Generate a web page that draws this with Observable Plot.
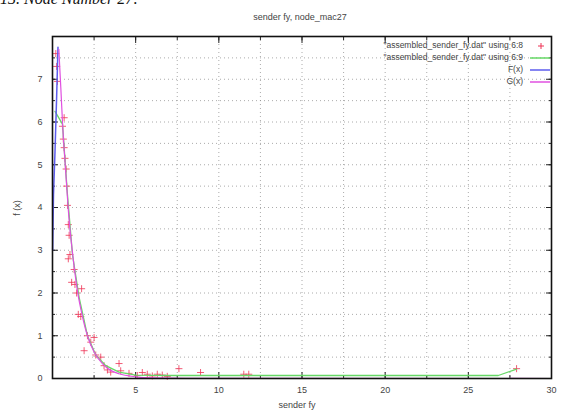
<!DOCTYPE html>
<html>
<head>
<meta charset="utf-8">
<script src="https://cdn.jsdelivr.net/npm/d3@7"></script>
<script src="https://cdn.jsdelivr.net/npm/@observablehq/plot@0.6"></script>
<style>
  body { margin: 0; background: #fff; }
  #wrap { position: relative; width: 566px; height: 413px; overflow: hidden; background: #fff; font-family: "Liberation Sans", "DejaVu Sans", sans-serif; }
  #chart { position: absolute; left: 0; top: 0; }
  .txt { position: absolute; color: #444; font-size: 9px; white-space: nowrap; }
  .leg { position: absolute; color: #444; font-size: 8.5px; white-space: nowrap; text-align: right; right: 43px; }
  .sw { position: absolute; left: 529px; width: 22px; height: 12px; }
</style>
</head>
<body>
<div id="wrap">
  <div id="chart"></div>
  <div class="txt" style="left:0;top:-10px;font-family:'Liberation Serif',serif;font-size:16px;color:#111;font-style:italic;">13. Node Number 27:</div>
  <div class="txt" style="left:300px;top:12px;transform:translateX(-50%);">sender fy, node_mac27</div>
  <div class="txt" style="left:297px;top:400px;transform:translateX(-50%);">sender fy</div>
  <div class="txt" style="left:17px;top:208px;transform:translate(-50%,-50%) rotate(-90deg);">f (x)</div>
  <div id="legend"></div>
</div>
<script>
// ---- data ----
const xTicks = [5, 10, 15, 20, 25, 30];
const xMajor = [0, 5, 10, 15, 20, 25, 30];
const yTicks = [0, 1, 2, 3, 4, 5, 6, 7];
const xGrid = [2.5, 5, 7.5, 10, 12.5, 15, 17.5, 20, 22.5, 25, 27.5];
const yGrid = [0.5, 1, 1.5, 2, 2.5, 3, 3.5, 4, 4.5, 5, 5.5, 6, 6.5, 7, 7.5];

// "assembled_sender_fy.dat" using 6:8 (points)
const ptX = [0.2, 0.25, 0.3, 0.7, 0.6, 0.65, 0.7, 0.75, 0.82, 0.85, 0.9, 0.95, 1.0, 1.05, 0.95, 1.3, 1.15, 1.35, 1.75, 1.45, 1.55, 1.7, 2.1, 2.3, 2.5, 1.9, 2.6, 2.9, 3.1, 3.3, 3.5, 4.0, 4.1, 4.6, 5.1, 5.4, 5.7, 6.0, 6.3, 6.6, 6.9, 7.6, 8.9, 11.5, 11.8, 27.9];
const ptY = [7.6, 7.3, 6.95, 6.1, 5.9, 5.6, 5.4, 5.15, 4.9, 4.5, 4.05, 3.6, 3.35, 2.9, 2.8, 2.55, 2.25, 2.2, 2.1, 2.0, 1.5, 1.45, 1.0, 0.85, 0.96, 0.65, 0.55, 0.5, 0.3, 0.2, 0.15, 0.35, 0.18, 0.12, 0.07, 0.14, 0.1, 0.06, 0.1, 0.08, 0.05, 0.23, 0.14, 0.1, 0.1, 0.23];

// "assembled_sender_fy.dat" using 6:9 (line)
const grX = [0.15, 0.6, 0.9, 1.2, 1.6, 2.1, 2.6, 3.2, 4.0, 5.0, 7.0, 12.0, 20.0, 26.8, 27.9];
const grY = [6.25, 5.95, 4.3, 2.9, 1.9, 1.0, 0.55, 0.3, 0.15, 0.08, 0.07, 0.07, 0.07, 0.07, 0.22];

// F(x)
const fX = [0.01, 0.06, 0.15, 0.25, 0.33];
const fY = [3.0, 4.3, 5.3, 6.6, 7.75];

// G(x)
const gX = [0.38, 0.5, 0.6, 0.8, 1.0, 1.2, 1.5, 1.8, 2.1, 2.5, 3.0, 3.5, 4.0, 5.0, 6.0, 8.0, 30.0];
const gY = [7.7, 6.8, 6.0, 4.8, 3.7, 2.95, 2.05, 1.45, 1.0, 0.62, 0.35, 0.19, 0.11, 0.04, 0.015, 0.005, 0];

const legendLabels = ['"assembled_sender_fy.dat" using 6:8', '"assembled_sender_fy.dat" using 6:9', 'F(x)', 'G(x)'];
const colors = ["#ee3355", "#66d866", "#5c5cee", "#e050e0"];

const pts = ptX.map((x, i) => ({x, y: ptY[i]}));
const green = grX.map((x, i) => ({x, y: grY[i]}));
const F = fX.map((x, i) => ({x, y: fY[i]}));
const G = gX.map((x, i) => ({x, y: gY[i]}));

const tickOpts = {tickFormat: null, fill: "none", label: null, stroke: "#222"};

const chart = Plot.plot({
  width: 566,
  height: 413,
  marginLeft: 52,
  marginRight: 15,
  marginTop: 36,
  marginBottom: 35,
  style: {fontFamily: "Liberation Sans, DejaVu Sans, sans-serif", fontSize: "9px", color: "#444", background: "white"},
  x: {domain: [0, 30]},
  y: {domain: [0, 8]},
  marks: [
    Plot.gridX(xGrid, {stroke: "#888", strokeOpacity: 0.7, strokeDasharray: "1,3"}),
    Plot.gridY(yGrid, {stroke: "#888", strokeOpacity: 0.7, strokeDasharray: "1,3"}),
    // tick labels
    Plot.axisX({anchor: "bottom", ticks: xTicks, tickSize: 0, tickPadding: 8, label: null}),
    Plot.axisY({anchor: "left", ticks: yTicks, tickSize: 0, tickPadding: 10, label: null}),
    // inward major ticks on all sides
    Plot.axisX({anchor: "bottom", ticks: xMajor, tickSize: -6, ...tickOpts}),
    Plot.axisX({anchor: "top", ticks: xMajor, tickSize: -6, ...tickOpts}),
    Plot.axisY({anchor: "left", ticks: yTicks, tickSize: -6, ...tickOpts}),
    Plot.axisY({anchor: "right", ticks: yTicks, tickSize: -6, ...tickOpts}),
    // inward minor ticks
    Plot.axisX({anchor: "bottom", ticks: xGrid, tickSize: -3, ...tickOpts}),
    Plot.axisX({anchor: "top", ticks: xGrid, tickSize: -3, ...tickOpts}),
    Plot.axisY({anchor: "left", ticks: yGrid, tickSize: -3, ...tickOpts}),
    Plot.axisY({anchor: "right", ticks: yGrid, tickSize: -3, ...tickOpts}),
    Plot.dot(pts, {x: "x", y: "y", symbol: "plus", r: 2.4, stroke: colors[0], strokeWidth: 1, strokeOpacity: 0.8}),
    Plot.line(green, {x: "x", y: "y", stroke: colors[1], strokeWidth: 1.3}),
    Plot.line(F, {x: "x", y: "y", stroke: colors[2], strokeWidth: 1.5}),
    Plot.line(G, {x: "x", y: "y", stroke: colors[3], strokeWidth: 1.2, curve: "monotone-x"}),
    Plot.frame({stroke: "#111", strokeWidth: 1.6})
  ]
});
document.getElementById("chart").appendChild(chart);

// legend (inside top-right of the plot)
const leg = document.getElementById("legend");
const rowsY = [46, 58, 70, 82];
legendLabels.forEach((lab, i) => {
  const t = document.createElement("div");
  t.className = "leg";
  t.style.top = (rowsY[i] - 6) + "px";
  t.textContent = lab;
  leg.appendChild(t);
  const ns = "http://www.w3.org/2000/svg";
  const s = document.createElementNS(ns, "svg");
  s.setAttribute("class", "sw");
  s.setAttribute("width", 22);
  s.setAttribute("height", 12);
  s.style.top = (rowsY[i] - 6) + "px";
  if (i === 0) {
    const p = document.createElementNS(ns, "path");
    p.setAttribute("d", "M9,6h6M12,3v6");
    p.setAttribute("stroke", colors[0]);
    p.setAttribute("stroke-width", 1);
    s.appendChild(p);
  } else {
    const l = document.createElementNS(ns, "line");
    l.setAttribute("x1", 1); l.setAttribute("x2", 21);
    l.setAttribute("y1", 6); l.setAttribute("y2", 6);
    l.setAttribute("stroke", colors[i]);
    l.setAttribute("stroke-width", 1.5);
    s.appendChild(l);
  }
  leg.appendChild(s);
});
</script>
</body>
</html>
